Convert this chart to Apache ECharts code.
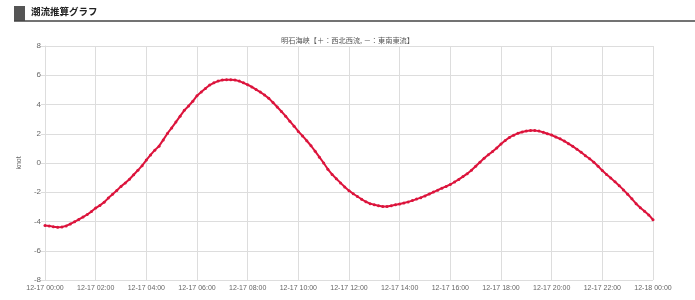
<!DOCTYPE html>
<html><head><meta charset="utf-8">
<script src="https://cdn.jsdelivr.net/npm/echarts@6/dist/echarts.min.js"></script>
<style>html,body{margin:0;padding:0;background:#fff}#c{width:695px;height:300px}</style>
</head><body><div id="c"></div>
<script>
const headerTitle = '潮流推算グラフ';
const chartTitle = '明石海峡【＋：西北西流, －：東南東流】';
const yAxisName = 'knot';
const yTicks = { min: -8, max: 8, step: 2 };
// 10-minute readings, 12-17 00:00 to 12-18 00:00 (knots)
const h00 = [-4.28, -4.30, -4.36, -4.40, -4.38, -4.30];
const h01 = [-4.17, -4.02, -3.86, -3.70, -3.52, -3.32];
const h02 = [-3.08, -2.90, -2.68, -2.40, -2.14, -1.88];
const h03 = [-1.60, -1.37, -1.11, -0.80, -0.50, -0.18];
const h04 = [0.20, 0.55, 0.88, 1.15, 1.58, 2.02];
const h05 = [2.40, 2.80, 3.20, 3.60, 3.90, 4.22];
const h06 = [4.60, 4.85, 5.10, 5.33, 5.48, 5.60];
const h07 = [5.67, 5.70, 5.70, 5.68, 5.60, 5.48];
const h08 = [5.35, 5.20, 5.02, 4.85, 4.65, 4.42];
const h09 = [4.14, 3.83, 3.52, 3.20, 2.85, 2.52];
const h10 = [2.16, 1.85, 1.52, 1.18, 0.80, 0.40];
const h11 = [0.00, -0.43, -0.78, -1.08, -1.36, -1.64];
const h12 = [-1.89, -2.10, -2.29, -2.48, -2.65, -2.78];
const h13 = [-2.86, -2.92, -2.98, -2.98, -2.92, -2.86];
const h14 = [-2.80, -2.74, -2.66, -2.57, -2.47, -2.37];
const h15 = [-2.25, -2.12, -1.99, -1.86, -1.72, -1.60];
const h16 = [-1.47, -1.30, -1.12, -0.93, -0.73, -0.50];
const h17 = [-0.22, 0.05, 0.32, 0.56, 0.78, 1.03];
const h18 = [1.30, 1.54, 1.75, 1.90, 2.03, 2.12];
const h19 = [2.19, 2.22, 2.22, 2.18, 2.10, 2.00];
const h20 = [1.91, 1.78, 1.65, 1.50, 1.32, 1.14];
const h21 = [0.94, 0.73, 0.50, 0.29, 0.05, -0.22];
const h22 = [-0.52, -0.78, -1.02, -1.29, -1.55, -1.84];
const h23 = [-2.14, -2.45, -2.78, -3.06, -3.30, -3.55];
const h24 = [-3.88];
const values = [].concat(h00,h01,h02,h03,h04,h05,h06,h07,h08,h09,h10,h11,h12,h13,h14,h15,h16,h17,h18,h19,h20,h21,h22,h23,h24);

const categories = [];
for (let i = 0; i < values.length; i++) {
  const m = i * 10;
  const day = m >= 1440 ? '12-18' : '12-17';
  const mm = m % 1440;
  const hh = String(Math.floor(mm / 60)).padStart(2, '0');
  const mi = String(mm % 60).padStart(2, '0');
  categories.push(day + ' ' + hh + ':' + mi);
}

const chart = echarts.init(document.getElementById('c'), null, { renderer: 'canvas' });
const font = 'Liberation Sans, Arial, sans-serif';
chart.setOption({
  animation: false,
  backgroundColor: '#fff',
  title: {
    text: chartTitle, left: 'center', top: 32,
    textStyle: { fontSize: 7.2, fontWeight: 'normal', color: '#555', fontFamily: 'Noto Sans CJK JP' }
  },
  graphic: [
    { type: 'rect', shape: { x: 14, y: 6, width: 11, height: 15 }, style: { fill: '#555' } },
    { type: 'text', x: 31, y: 7, style: { text: headerTitle, fontSize: 9.5, fontWeight: 'bold', fill: '#222', fontFamily: 'Noto Sans CJK JP' } },
    { type: 'line', shape: { x1: 14, y1: 21, x2: 695, y2: 21 }, style: { stroke: '#444', lineWidth: 1.5 } }
  ],
  grid: { left: 45, right: 42, top: 46, bottom: 20, containLabel: false },
  xAxis: {
    type: 'category', data: categories, boundaryGap: false,
    axisLine: { lineStyle: { color: '#ddd' } },
    axisTick: { show: true, interval: 11, length: 4, lineStyle: { color: '#ddd' } },
    axisLabel: { interval: 11, fontSize: 7, color: '#666', margin: 5, fontFamily: font },
    splitLine: { show: true, interval: 11, lineStyle: { color: '#ddd', width: 1 } }
  },
  yAxis: {
    type: 'value', min: yTicks.min, max: yTicks.max, interval: yTicks.step,
    name: yAxisName, nameLocation: 'middle', nameGap: 18, nameRotate: 90,
    nameTextStyle: { fontSize: 7, color: '#666', fontFamily: font },
    axisLine: { show: true, lineStyle: { color: '#ddd' } },
    axisTick: { show: true, length: 4, lineStyle: { color: '#ddd' } },
    axisLabel: { fontSize: 8, color: '#666', margin: 4, fontFamily: font },
    splitLine: { show: true, lineStyle: { color: '#ddd', width: 1 } }
  },
  series: [{
    type: 'line', data: values,
    symbol: 'circle', symbolSize: 3, showSymbol: true, showAllSymbol: true,
    lineStyle: { color: '#dc143c', width: 2 },
    itemStyle: { color: '#dc143c' }
  }]
});
</script>
</body></html>
